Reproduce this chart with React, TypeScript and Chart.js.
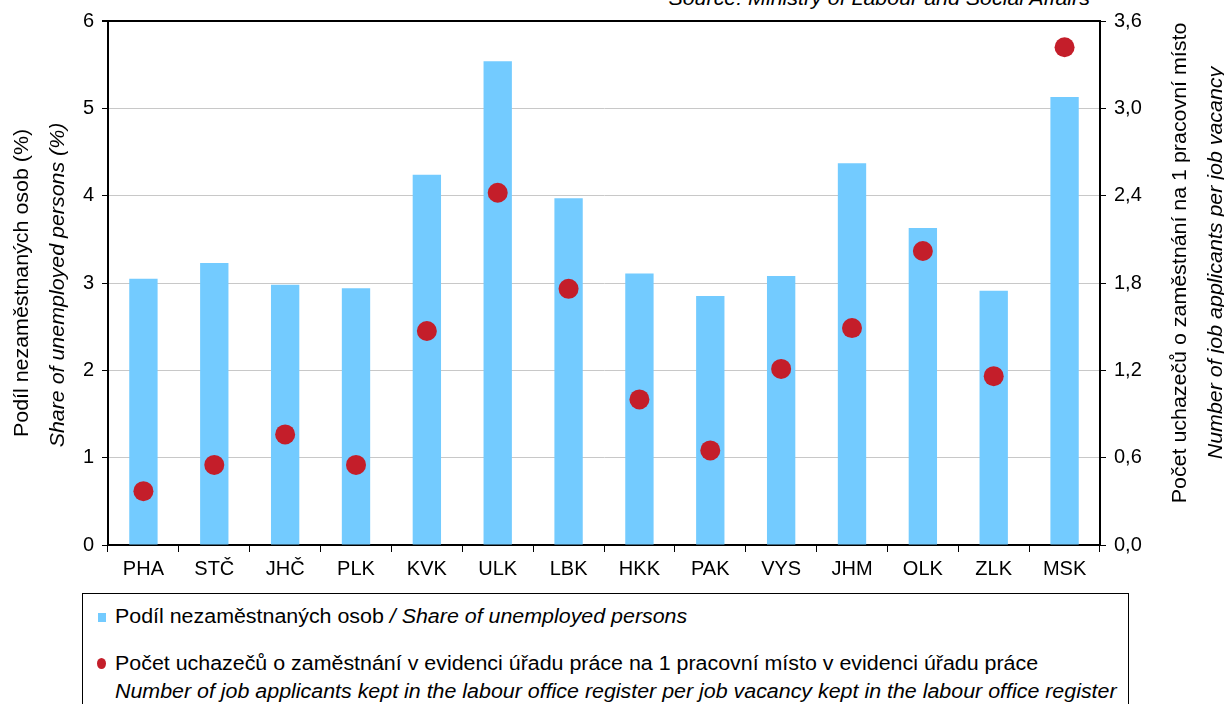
import React, { useEffect, useRef } from "react";
import { Chart, registerables } from "chart.js";

Chart.register(...registerables);

const regions = ["PHA", "STČ", "JHČ", "PLK", "KVK", "ULK", "LBK", "HKK", "PAK", "VYS", "JHM", "OLK", "ZLK", "MSK"];
const unemployedShare = [3.05, 3.23, 2.98, 2.94, 4.24, 5.54, 3.97, 3.11, 2.85, 3.08, 4.37, 3.63, 2.91, 5.13];
const applicantsPerVacancy = [0.37, 0.55, 0.76, 0.55, 1.47, 2.42, 1.76, 1.0, 0.65, 1.21, 1.49, 2.02, 1.16, 3.42];
const leftTicks = [0, 1, 2, 3, 4, 5, 6];
const rightTicks = [0, 0.6, 1.2, 1.8, 2.4, 3.0, 3.6];

const FONT = "'Liberation Sans', Arial, sans-serif";
const BAR_COLOR = "#73CBFF";
const DOT_COLOR = "#C41E2A";
const STRETCH = 1.07;

const leftTitle1 = "Podíl nezaměstnaných osob (%)";
const leftTitle2 = "Share of unemployed persons (%)";
const rightTitle1 = "Počet uchazečů o zaměstnání na 1 pracovní místo";
const rightTitle2 = "Number of job applicants per job vacancy";

const axisTitlePlugin = {
  id: "axisTitlePlugin",
  afterDraw(chart: any) {
    const ctx = chart.ctx;
    const area = chart.chartArea;
    const cy = (area.top + area.bottom) / 2;
    const draw = (x: number, y: number, text: string, italic: boolean) => {
      ctx.save();
      ctx.translate(x, y);
      ctx.rotate(-Math.PI / 2);
      ctx.scale(STRETCH, 1);
      ctx.font = `${italic ? "italic " : ""}20px ${FONT}`;
      ctx.fillStyle = "#000";
      ctx.textAlign = "center";
      ctx.textBaseline = "middle";
      ctx.fillText(text, 0, 0);
      ctx.restore();
    };
    draw(22, cy, leftTitle1, false);
    draw(58, cy + 2, leftTitle2, true);
    draw(1180, cy - 20, rightTitle1, false);
    draw(1216, cy - 20, rightTitle2, true);
  },
};

const stretchStyle: any = { transform: `scaleX(${STRETCH})`, transformOrigin: "left center" };

function App() {
  const ref = useRef<HTMLCanvasElement | null>(null);

  useEffect(() => {
    if (!ref.current) return;
    const chart = new Chart(ref.current, {
      type: "bar",
      data: {
        labels: regions,
        datasets: [
          {
            type: "bar",
            label: "Podíl nezaměstnaných osob",
            data: unemployedShare,
            backgroundColor: BAR_COLOR,
            barPercentage: 0.4,
            categoryPercentage: 1,
            yAxisID: "y",
            order: 2,
          },
          {
            type: "line",
            label: "Počet uchazečů",
            data: applicantsPerVacancy,
            showLine: false,
            pointRadius: 10,
            pointBackgroundColor: DOT_COLOR,
            pointBorderColor: DOT_COLOR,
            pointBorderWidth: 0,
            yAxisID: "y1",
            order: 1,
          } as any,
        ],
      },
      options: {
        animation: false,
        responsive: false,
        maintainAspectRatio: false,
        layout: { padding: { top: 21, left: 0, right: 0, bottom: 0 } },
        plugins: {
          legend: { display: false },
          tooltip: { enabled: false },
        },
        scales: {
          x: {
            offset: true,
            grid: {
              offset: true,
              drawOnChartArea: false,
              drawTicks: true,
              tickLength: 7,
              tickColor: "#000",
            },
            border: { color: "#000", width: 2 },
            ticks: {
              color: "#000",
              font: { family: FONT, size: 20 },
              padding: 5,
              maxRotation: 0,
            },
            afterFit(scale: any) {
              scale.height = 45;
            },
          },
          y: {
            position: "left",
            min: 0,
            max: 6,
            afterBuildTicks(scale: any) {
              scale.ticks = leftTicks.map((v) => ({ value: v }));
            },
            grid: {
              color: (c: any) => (c.tick && c.tick.value === 6 ? "#000" : c.tick && c.tick.value === 0 ? "rgba(0,0,0,0)" : "#C8C8C8"),
              lineWidth: (c: any) => (c.tick && c.tick.value === 6 ? 2 : 1),
              tickColor: "#000",
              tickLength: 6,
            },
            border: { color: "#000", width: 2 },
            ticks: {
              color: "#000",
              font: { family: FONT, size: 20 },
              padding: 8,
              callback: (v: any) => String(v),
            },
            afterFit(scale: any) {
              scale.width = 108;
            },
          },
          y1: {
            position: "right",
            min: 0,
            max: 3.6,
            afterBuildTicks(scale: any) {
              scale.ticks = rightTicks.map((v) => ({ value: v }));
            },
            grid: {
              drawOnChartArea: false,
              tickColor: "#000",
              tickLength: 6,
            },
            border: { color: "#000", width: 2 },
            ticks: {
              color: "#000",
              font: { family: FONT, size: 20 },
              padding: 8,
              callback: (v: any) => Number(v).toFixed(1).replace(".", ","),
            },
            afterFit(scale: any) {
              scale.width = 124;
            },
          },
        },
      },
      plugins: [axisTitlePlugin],
    } as any);
    return () => chart.destroy();
  }, []);

  return (
    <div
      style={{
        position: "fixed",
        left: 0,
        top: 0,
        width: 1224,
        height: 704,
        overflow: "hidden",
        background: "#fff",
        fontFamily: FONT,
        color: "#000",
      }}
    >
      <div
        style={{
          position: "absolute",
          right: 134,
          top: -13,
          fontSize: 20,
          fontStyle: "italic",
          whiteSpace: "nowrap",
          transform: `scaleX(${STRETCH})`,
          transformOrigin: "right center",
        }}
      >
        Source: Ministry of Labour and Social Affairs
      </div>
      <canvas ref={ref} width={1224} height={590} style={{ position: "absolute", left: 0, top: 0 }} />
      <div
        style={{
          position: "absolute",
          left: 82,
          top: 593,
          width: 1047,
          height: 130,
          border: "1px solid #000",
          boxSizing: "border-box",
          fontSize: 20,
        }}
      >
        <span
          style={{ position: "absolute", left: 15, top: 19, width: 8, height: 9, background: BAR_COLOR }}
        />
        <div style={{ position: "absolute", left: 32, top: 10, whiteSpace: "nowrap", lineHeight: "24px", ...stretchStyle }}>
          Podíl nezaměstnaných osob <i>/ Share of unemployed persons</i>
        </div>
        <span
          style={{
            position: "absolute",
            left: 14,
            top: 64,
            width: 9,
            height: 11,
            borderRadius: "50%",
            background: DOT_COLOR,
          }}
        />
        <div style={{ position: "absolute", left: 32, top: 55, whiteSpace: "nowrap", lineHeight: "28px", ...stretchStyle }}>
          <div>Počet uchazečů o zaměstnání v evidenci úřadu práce na 1 pracovní místo v evidenci úřadu práce</div>
          <div style={{ fontStyle: "italic" }}>
            Number of job applicants kept in the labour office register per job vacancy kept in the labour office register
          </div>
        </div>
      </div>
    </div>
  );
}

export default App;
